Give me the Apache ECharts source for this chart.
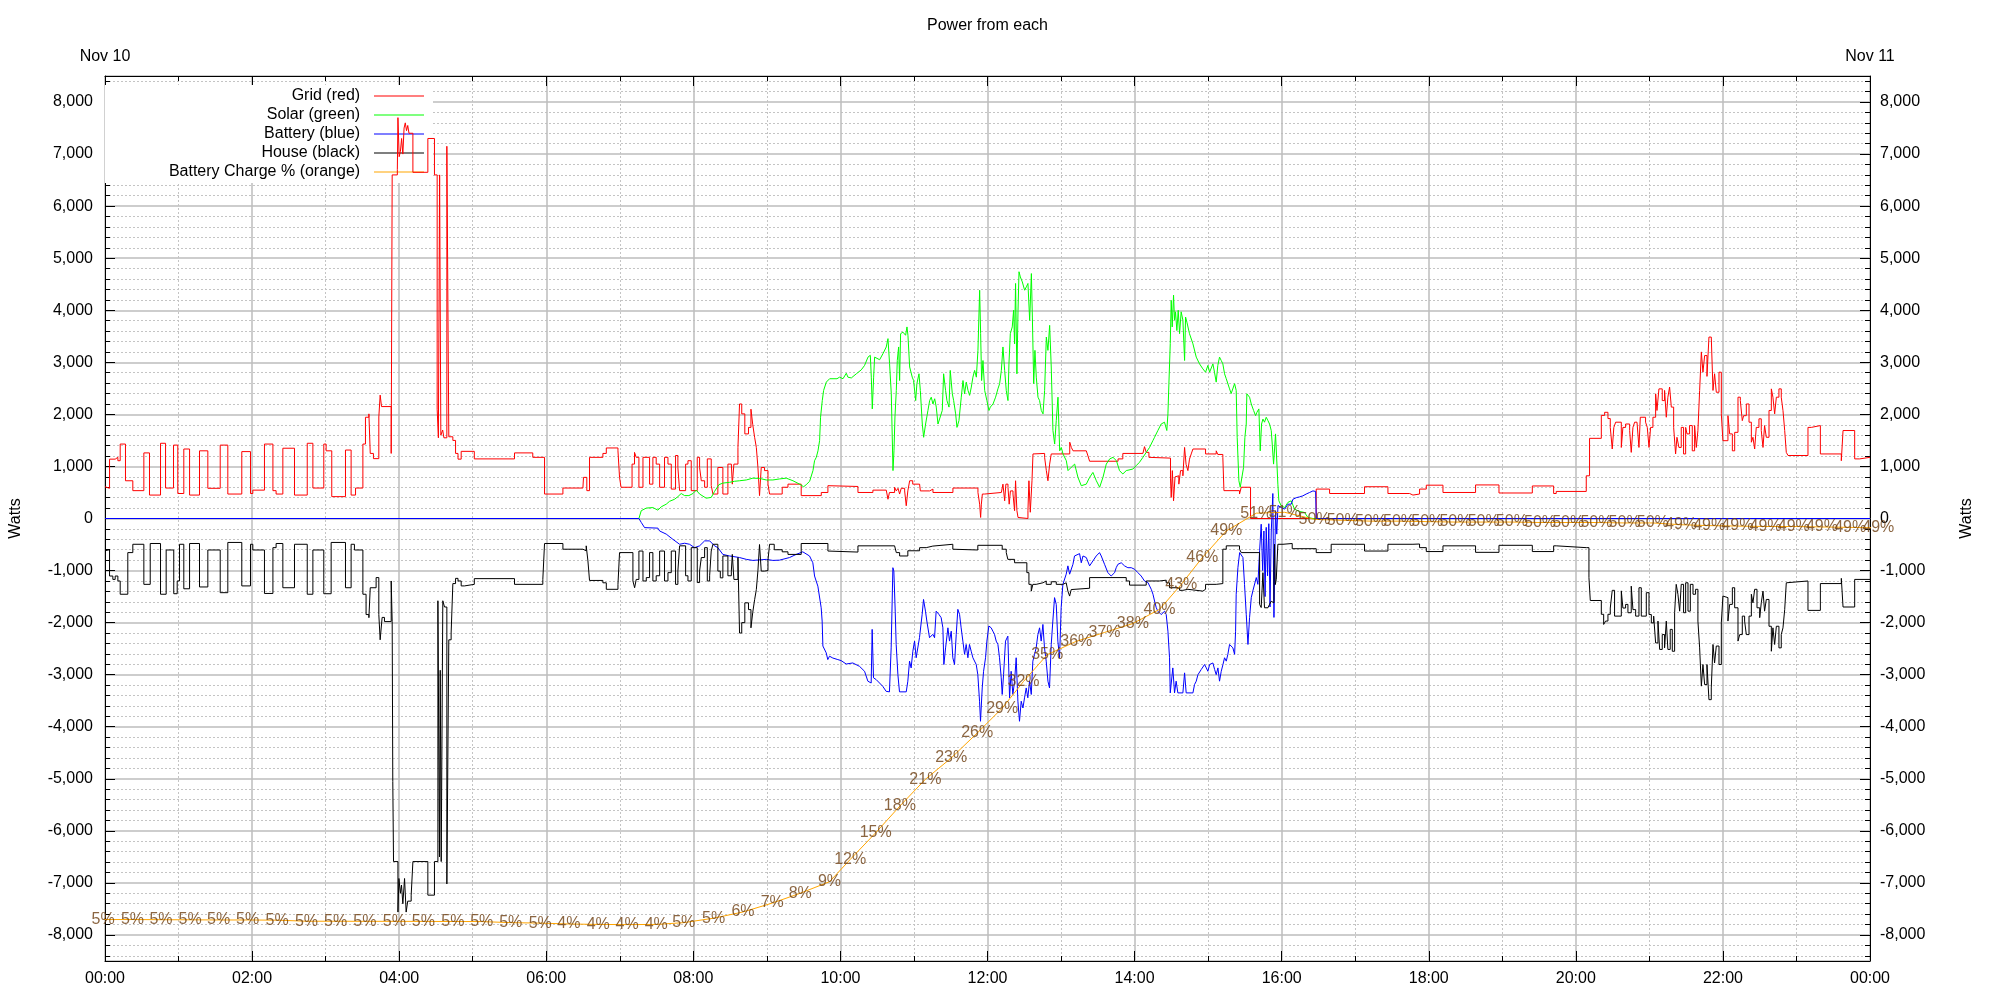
<!DOCTYPE html>
<html><head><meta charset="utf-8">
<script src="https://cdn.jsdelivr.net/npm/echarts/dist/echarts.min.js"></script>
<style>html,body{margin:0;padding:0;background:#fff}#c{width:2000px;height:1000px}</style>
</head><body><div id="c"></div>
<script>
const FONT = 'Liberation Sans';
const titleText = 'Power from each';
const dateLabels = ['Nov 10', 'Nov 11'];
const axisName = 'Watts';
const seriesNames = ['Grid (red)', 'Solar (green)', 'Battery (blue)', 'House (black)', 'Battery Charge % (orange)'];
const seriesColors = ['#ff0000', '#00ff00', '#0000ff', '#000000', '#ffa500'];

// [minute of day, watts]
const gridW = [[0,610],[1,580],[3.7,1140],[8.3,1175],[10.5,1110],[12.4,1430],[16.7,725],[22.7,535],[31.7,1260],[36.3,450],[45.3,1445],[49.4,585],[55.9,1410],[59.4,480],[64.3,1335],[69,450],[77.1,1300],[83.9,580],[94,1410],[100.2,470],[111.6,1285],[118.7,480],[120.6,545],[130.1,1430],[137,535],[139.6,470],[145.1,1350],[154.6,450],[165,1445],[169.6,585],[178.5,1430],[180.4,1300],[185,420],[196.2,1315],[200.8,450],[204.4,585],[210.4,1430],[212.5,1945],[215.3,2010],[216.4,1250],[219,1150],[223.4,1950],[224.5,2370],[225.6,2150],[233.5,1250],[234.3,6600],[238.5,6700],[239,7700],[240,6950],[241,7050],[242,7300],[243,7000],[244,7500],[245,7600],[246,7450],[247,7550],[248,7400],[251.2,6650],[263.4,7300],[268.8,6600],[271,2100],[272,1550],[273,6600],[274,1600],[275.5,1700],[276.5,1550],[278.9,7150],[280.5,1570],[283.8,1500],[286,1250],[288,1140],[290.6,1290],[301.3,1145],[334.1,1260],[349,1175],[358.6,470],[373.6,585],[389.9,610],[390.4,790],[393.1,535],[395.3,1175],[406.2,1250],[409,1355],[418.5,1300],[419.8,790],[421,600],[430,1045],[432,1270],[433.4,1175],[435.6,600],[438.9,1175],[444.3,660],[447,1175],[449.7,1045],[452.5,600],[456.5,1175],[459.3,1045],[462,565],[465.5,1210],[467.4,980],[468.8,535],[473.7,1045],[475.6,1110],[478.3,535],[483.2,1175],[485.1,980],[486.5,725],[489.2,600],[491.4,1145],[494.6,630],[496,470],[500,980],[504.1,470],[508.2,1045],[511,1080],[511.8,660],[513.1,1045],[516.4,1365],[517.7,2200],[519.5,2010],[522,1625],[525,1750],[527,2100],[528.5,1800],[530,1560],[531.4,1365],[532.7,980],[534,440],[535.4,980],[538.1,920],[540.9,660],[542.2,470],[552.5,600],[557.2,660],[568,440],[584.4,500],[589.8,630],[591.2,615],[614.3,500],[626.5,545],[637.4,530],[638.8,370],[640,500],[644.2,600],[645.6,530],[647,580],[648.3,470],[649.6,580],[652.4,530],[653.7,245],[655,530],[656.5,725],[659,660],[664.6,630],[665.2,530],[672.8,565],[675.5,500],[691.8,585],[712.2,500],[713.6,275],[714.4,20],[715,275],[715.8,470],[717.7,500],[731.3,530],[732.6,660],[734,340],[735,660],[736.7,600],[737.7,275],[738.7,530],[740.8,470],[742.1,150],[742.9,725],[744,150],[744.9,20],[746.2,0],[753,150],[753.8,725],[754.9,120],[756.3,725],[757.1,1240],[758.5,1250],[766.6,1175],[768,920],[769.3,725],[770.7,1045],[772,1240],[787.1,1465],[788.4,1365],[789.8,1300],[800.6,1270],[802,1200],[803.3,1100],[826.5,1145],[830.4,1250],[846.8,1270],[848.1,1380],[849.5,1270],[851.7,1175],[852.2,1160],[869.3,760],[869.9,405],[870.8,920],[871.8,340],[873,800],[874.5,820],[876.1,660],[877.5,920],[879.4,820],[880.8,1365],[882,1040],[883.5,920],[884.8,1140],[886.2,1240],[887.6,1335],[897.9,1240],[906.6,1300],[907.9,1230],[912,1175],[912.9,535],[925.6,470],[927,600],[934.6,0],[988.2,565],[999.1,480],[1027.6,610],[1046.7,480],[1064.4,450],[1067.1,470],[1072.5,565],[1078,640],[1091.6,500],[1118.2,645],[1137.3,490],[1164.5,625],[1181.9,480],[1184,520],[1208.5,820],[1211.2,1540],[1220.8,1980],[1223.5,2040],[1226.2,1920],[1228.1,1750],[1229.7,1335],[1231,1750],[1232.5,1850],[1237.1,1365],[1238.4,1750],[1240.6,1815],[1243.9,1690],[1245.2,1270],[1246.6,1750],[1248,1850],[1249.9,1880],[1251.5,1365],[1252.6,1945],[1256.9,1850],[1258.3,1750],[1259.7,1365],[1261,1750],[1262.9,1945],[1265.1,2395],[1266.2,2075],[1267.8,2490],[1270.5,2265],[1272.4,2460],[1273.8,1945],[1275.1,2330],[1276.5,2525],[1277.9,2140],[1279.8,1750],[1281.4,1240],[1282.5,1560],[1284.1,1365],[1286,1750],[1287.9,1240],[1289.6,1750],[1290.7,1625],[1292.8,1785],[1295,1300],[1296.9,1785],[1298.3,1365],[1299.6,1690],[1301,2460],[1302.4,3200],[1303.7,2810],[1305.1,3130],[1307,2730],[1308.6,3485],[1310.5,3455],[1311.9,2460],[1313.2,2780],[1314.6,2425],[1316.8,2810],[1318.7,2010],[1320,1495],[1324.1,1975],[1325.5,1625],[1327.7,1300],[1329.6,1655],[1332.3,2330],[1334.2,2265],[1335.8,1880],[1336.9,1975],[1339.1,2200],[1341.3,1850],[1343.2,1465],[1344.5,1560],[1345.9,1335],[1347.2,1750],[1349.4,1915],[1351.3,1690],[1352.7,1365],[1354,1785],[1355.4,1560],[1357.6,2075],[1359.5,2490],[1360.8,2330],[1362.2,2010],[1363.6,2330],[1365.7,2490],[1367.6,2330],[1369,2075],[1370.4,1690],[1371.7,1270],[1373.1,1210],[1389.4,1750],[1392.1,1785],[1399.5,1240],[1416.6,1110],[1418,1690],[1427.5,1145],[1431.6,1175],[1440,1175]];

const solarW = [[0,0],[435.6,0],[437.5,150],[441.6,200],[447,210],[451.1,160],[453.8,225],[457.9,275],[460.6,330],[464.7,370],[467.4,420],[470.1,480],[472.9,440],[476.4,440],[479.7,480],[482.4,545],[485.1,470],[490.5,390],[494.6,405],[497.3,520],[500.9,650],[504.1,680],[509.6,695],[513.7,715],[517.7,725],[523.2,740],[528.6,775],[534.1,770],[539.5,740],[544.9,740],[550.4,760],[555.8,775],[561.3,725],[566.7,660],[570,610],[572.1,650],[574.9,715],[577.6,920],[578.9,1110],[580.3,1175],[581.7,1300],[583,1495],[583.8,1945],[585.2,2265],[586.3,2460],[588.5,2620],[591.2,2685],[597.2,2685],[599.3,2715],[602.1,2685],[604.8,2790],[606.1,2715],[608.9,2700],[613,2780],[617,2855],[619.7,2940],[622.5,3100],[624.4,3135],[625.2,2715],[626,2105],[627.1,2715],[627.9,3100],[629.3,3135],[632,3050],[634.7,3165],[637.4,3295],[638.8,3455],[640.1,2975],[641.5,2395],[642.9,920],[643.7,1300],[644.5,1950],[645.6,2460],[646.4,3035],[647.5,3295],[648.3,2650],[649.1,3550],[651,3580],[653.2,3520],[654.3,3680],[655.1,3520],[656.5,2910],[658.6,2715],[659.7,2650],[661.4,2265],[662.4,2590],[664.1,2780],[665.2,2460],[666.8,1815],[667.9,1560],[669.5,1815],[671.4,2075],[672.8,2265],[674.1,2330],[675.5,2200],[676.9,2300],[678.2,2140],[679.6,1815],[681,1850],[683.1,2075],[684.2,2780],[685.8,2460],[686.9,2265],[688.6,2140],[689.6,2845],[691.3,2395],[692.4,2265],[694,2010],[695.1,1750],[696.7,1880],[698.6,2330],[700,2650],[701.3,2395],[702.7,2620],[704.1,2460],[705.4,2365],[706.8,2525],[708.1,2715],[709.5,2845],[710.9,2715],[712.2,3230],[713.6,4385],[714.4,3550],[715.2,2650],[716.3,3035],[717.7,2460],[719.5,2265],[721.2,2075],[722.3,2140],[724.5,2200],[726.6,2330],[728.5,2490],[729.9,2590],[731.3,2845],[732.6,3295],[734,2845],[735.3,2460],[736.7,2265],[737.5,2970],[738.6,3550],[740.2,3680],[741.3,4000],[742.1,3355],[742.9,4515],[744,2780],[744.9,4000],[745.7,4740],[746.8,4640],[748.4,4545],[750.3,4385],[751.7,4450],[753,4515],[754.4,3805],[755.8,4705],[756.6,3870],[757.7,2590],[758.7,3230],[759.8,2715],[761.2,2330],[762.5,2265],[763.9,2075],[765.3,2010],[766.6,2460],[768,3485],[769.3,3230],[770.7,3710],[772,2910],[773.4,1690],[774.8,1430],[776.1,1880],[777.5,2330],[778.9,1300],[780.2,1365],[781.6,1240],[784.3,1110],[785.7,920],[787.1,890],[788.4,985],[791.1,1045],[793.8,790],[796.5,630],[800.6,660],[803.3,790],[806,885],[808.8,725],[811.5,600],[814.2,790],[816.9,1045],[819.7,1145],[822.4,1175],[825.2,1110],[827.7,920],[830.4,855],[833.2,920],[838.6,950],[841.3,1015],[844,1080],[846.8,1175],[849.5,1270],[852.2,1365],[854.9,1495],[856.3,1560],[859,1690],[861.7,1815],[864.4,1850],[866.3,1690],[867.2,2010],[868,2590],[869.1,3360],[869.9,4190],[870.7,3680],[871.8,4290],[872.6,3810],[873.4,3970],[874.5,3610],[875.6,4000],[876.7,3550],[878,3970],[879.4,3810],[880.8,3035],[881.6,3870],[882.7,3770],[884.8,3550],[887.6,3355],[890.3,3100],[893,2970],[895.7,2875],[897.9,2810],[899.8,2940],[901.2,2810],[903.9,2970],[905.2,2810],[906.6,2620],[907.9,2940],[909.3,3100],[910.7,3035],[912,2970],[913.4,2780],[914.8,2685],[917.5,2490],[918.8,2400],[920.2,2430],[921.6,2590],[922.9,2460],[923.7,1560],[925.1,725],[926.2,600],[927.8,630],[928.9,980],[930,1560],[931.1,1815],[931.6,2395],[932.4,2430],[933.8,2330],[935.2,2200],[937.1,2075],[938.7,1975],[939.8,2040],[941.4,2105],[942.5,1300],[943.6,1815],[944.7,1910],[946,1850],[947.4,1945],[948.8,1880],[950.1,1815],[951.5,1690],[952.3,1430],[953.4,1045],[954.4,1045],[955,1625],[956.1,1625],[956.9,660],[957.7,340],[959.6,245],[962.4,210],[965.1,310],[967.8,340],[970.5,180],[974.6,135],[978.7,115],[981.4,20],[985.5,0],[1440,0]];

const batteryW = [[0,0],[435.6,0],[437.5,-75],[440.2,-175],[451.1,-185],[452.5,-240],[457.9,-300],[463.3,-400],[468.8,-495],[472.9,-475],[476.9,-495],[481,-560],[485.1,-525],[489.2,-430],[493.3,-430],[497.3,-525],[500,-560],[504.1,-690],[509.6,-720],[517.7,-750],[523.2,-785],[528.6,-805],[539.5,-785],[544.9,-805],[550.3,-800],[558.5,-750],[563.9,-690],[569.3,-640],[574.8,-720],[577.5,-850],[578.9,-1105],[580.2,-1200],[581.6,-1300],[582.9,-1330],[584.3,-1715],[585.1,-1970],[585.7,-2450],[588.4,-2580],[589.7,-2710],[591.1,-2645],[593.8,-2680],[597.9,-2710],[600.6,-2730],[604.7,-2795],[610.1,-2775],[615.6,-2840],[619.7,-2935],[622.4,-3125],[625.1,-3160],[625.9,-2130],[627,-3060],[629.2,-3095],[631.9,-3160],[634.6,-3225],[637.3,-3320],[640,-3330],[641.4,-2485],[642.8,-945],[643.6,-1010],[644.7,-1780],[645.5,-2420],[646.9,-3000],[648.2,-3330],[653.7,-3330],[655,-3125],[656.4,-2740],[657.7,-2870],[659.1,-2550],[660.5,-2355],[661.8,-2675],[664.5,-2290],[666.7,-1840],[667.8,-1555],[669.4,-1780],[670.5,-1970],[672.7,-2290],[674.1,-2325],[675.4,-2225],[676.8,-2290],[678.1,-1780],[680.3,-1840],[682.2,-1905],[683.6,-2100],[684.4,-2805],[685.8,-2485],[687.7,-2100],[689,-2355],[690.4,-2165],[691.7,-2675],[693.1,-2805],[694.5,-2225],[695.8,-1745],[697.2,-1840],[698.5,-2100],[699.9,-2355],[701.3,-2610],[702.6,-2420],[704,-2675],[705.3,-2420],[706.7,-2550],[708.1,-2675],[710.8,-2805],[712.1,-3000],[713.5,-3510],[714.3,-3895],[715.7,-3255],[716.8,-2935],[718.4,-2675],[719.5,-2355],[721.1,-2065],[723,-2100],[724.4,-2165],[725.7,-2225],[727.1,-2355],[728.5,-2420],[729.8,-2675],[731.2,-3060],[732,-3380],[733.1,-3000],[734.7,-2355],[736.6,-2260],[738,-3445],[739.3,-2935],[740.7,-3380],[742.1,-3125],[743.4,-2675],[744.8,-3510],[746.1,-3895],[747.5,-3510],[748.9,-3640],[750.2,-3445],[751.6,-3255],[752.9,-3445],[754.3,-3125],[755.7,-3380],[757,-2740],[758.4,-2610],[759.7,-2485],[761.1,-2230],[762.5,-2100],[763.8,-2355],[765.2,-2035],[766.5,-2485],[767.9,-2740],[769.3,-3125],[770.6,-3255],[772,-2420],[773.3,-1970],[774.7,-1520],[776.1,-1650],[777.4,-2355],[778.8,-2675],[780.1,-1715],[781.5,-1265],[784.2,-1070],[785.6,-910],[787,-1070],[788.3,-1040],[789.7,-880],[791,-720],[795.1,-675],[796.5,-850],[797.9,-720],[800.6,-750],[803.3,-910],[806,-815],[808.7,-720],[811.4,-655],[812.8,-720],[815.5,-880],[818.2,-1040],[820.9,-1105],[822.3,-1070],[823.7,-1040],[825,-945],[826.4,-880],[829.1,-850],[831.8,-910],[834.5,-945],[837.3,-945],[840,-975],[842.7,-1040],[845.4,-1105],[848.1,-1200],[850.9,-1230],[853.6,-1360],[855,-1455],[856.3,-1585],[857.7,-1715],[859,-1780],[860.4,-1745],[861.7,-1845],[863.1,-1875],[864.5,-1780],[865.8,-1845],[867.2,-2165],[868.5,-2675],[869.1,-3350],[871.2,-2870],[872.6,-3350],[873.9,-3125],[875.3,-3350],[879.4,-3350],[880.8,-2965],[882.1,-3350],[887.6,-3350],[888.9,-3190],[890.3,-3125],[891.7,-3000],[894.4,-2900],[897.1,-2805],[898.5,-2870],[899.8,-2935],[901.2,-2805],[902.5,-2840],[903.9,-2775],[905.3,-2900],[906.6,-3000],[908,-2870],[909.3,-3125],[910.7,-2935],[912.1,-2805],[913.4,-2675],[914.8,-2740],[916.1,-2610],[917.5,-2420],[918.9,-2390],[920.2,-2485],[921.6,-2610],[922.4,-2165],[922.9,-1455],[924.3,-945],[925.7,-655],[927,-620],[928.4,-750],[929.7,-1265],[931.1,-1840],[932.5,-2420],[933.8,-1905],[935.2,-1520],[936.5,-1390],[937.9,-1360],[939.3,-1135],[940.6,-1265],[942,-620],[943.3,-110],[944.5,-1000],[945.5,-240],[946.5,-1500],[947.4,-170],[948.5,-1100],[949.5,-100],[950.5,-1700],[951.5,-260],[952.8,480],[953.7,-1900],[955,150],[956,-300],[957,250],[959.6,210],[962.4,180],[965.1,275],[967.8,275],[969.2,370],[971.9,400],[974.6,415],[977.3,435],[980,470],[982.8,500],[985.5,530],[987.7,520],[988.2,0],[1440,0]];

const houseW = [[0,-620],[1,-600],[3.7,-1105],[6.4,-1170],[8.3,-1105],[10.5,-1200],[12.4,-1455],[18.6,-655],[22.7,-495],[31.7,-1265],[36.9,-480],[45.3,-1455],[49.9,-605],[56.1,-1445],[58.9,-1200],[60.8,-495],[64.3,-1350],[69,-480],[77.1,-1315],[83.9,-605],[94,-1425],[100.2,-460],[111.6,-1295],[118.7,-495],[120.6,-605],[130.1,-1440],[137,-560],[139.6,-480],[145.1,-1330],[154.6,-495],[165,-1455],[169.6,-605],[178.5,-1445],[184.5,-460],[196.2,-1330],[200.8,-495],[203.5,-605],[210.4,-1455],[213,-1845],[215.3,-1905],[216.4,-1330],[221.2,-1135],[223.4,-1845],[224.5,-2330],[226.1,-1900],[228,-1980],[233.5,-1200],[234.3,-1980],[234.8,-5050],[235.4,-6590],[239,-7560],[239.8,-6915],[241,-7200],[241.9,-7040],[243,-7400],[244.4,-6915],[245.7,-7560],[247,-7350],[249.8,-7235],[251.2,-6590],[263.4,-7235],[268.8,-6590],[271.6,-1580],[272.9,-6500],[273.5,-2915],[274.3,-6590],[275.6,-1580],[277,-1700],[278.9,-7020],[280.5,-2330],[282.4,-2200],[283.8,-1250],[286,-1150],[288,-1200],[290.6,-1295],[293.3,-1265],[301.3,-1155],[334.1,-1265],[357.2,-1170],[358.6,-480],[373.6,-590],[389.9,-620],[392.6,-525],[394,-815],[395.3,-1190],[406.2,-1235],[409,-1360],[418.5,-1265],[419.8,-655],[430.7,-1200],[432.1,-1330],[433.4,-1170],[435.6,-625],[438.9,-1200],[441.6,-1135],[444.3,-655],[447,-1200],[449.7,-1100],[452.5,-625],[456.5,-1200],[459.3,-1040],[462,-625],[465.5,-1265],[467.4,-1010],[468.8,-525],[473.7,-1100],[475.6,-1200],[478.3,-560],[483.2,-1230],[485.1,-1010],[486.5,-750],[489.2,-560],[491.4,-1200],[493.3,-1100],[494.6,-625],[496,-495],[500,-1010],[502,-1140],[504.1,-720],[508.2,-1100],[511,-1010],[511.8,-690],[513.1,-1170],[516.4,-750],[517.7,-2200],[519.5,-2000],[522,-1620],[525,-1750],[527,-2100],[528.5,-1800],[530,-1560],[531.4,-1365],[532.7,-1000],[534,-500],[535.4,-1010],[538.1,-1000],[540.9,-800],[542.2,-495],[546,-600],[552.5,-640],[557.2,-690],[568,-480],[589.8,-625],[591.2,-645],[614.3,-525],[644.2,-545],[645.6,-655],[648.3,-720],[655,-620],[664.6,-560],[670,-530],[675.4,-495],[691.7,-590],[693,-605],[712.1,-515],[732,-590],[735.3,-655],[736.6,-785],[742.1,-850],[752.1,-1040],[753.8,-1265],[755.7,-1395],[757,-1265],[759.7,-1235],[765.2,-1200],[767.9,-1265],[772,-1215],[776.1,-1265],[781.5,-1235],[784.2,-1265],[785.6,-1395],[787,-1490],[788.3,-1365],[789.7,-1340],[803.3,-1135],[833.2,-1200],[835.9,-1280],[849.5,-1200],[860.4,-1185],[865.8,-1235],[868.5,-1330],[876.7,-1380],[879.4,-1360],[883.5,-1395],[895.7,-1360],[897.9,-1265],[906.6,-1250],[912,-590],[914.8,-525],[925.6,-590],[927,-655],[942,-1650],[943.3,-1710],[944.7,-1040],[946,-1715],[948.8,-1745],[950.1,-1650],[951.5,-1590],[952.8,-1620],[953.7,-1000],[954.2,-495],[954.8,-1270],[955.6,-1170],[956.9,-495],[961.1,-480],[968.6,-580],[988.2,-655],[1000.4,-495],[1027.6,-625],[1046.7,-495],[1067.1,-490],[1072.5,-560],[1078,-635],[1091.6,-525],[1118.2,-650],[1137.3,-515],[1164.5,-635],[1181.9,-525],[1184,-560],[1208.5,-560],[1210.7,-1135],[1211.8,-1575],[1220.8,-1840],[1222.7,-2035],[1224.3,-1970],[1226.2,-1840],[1228.1,-1720],[1229.7,-1380],[1231.6,-1875],[1235.2,-1875],[1237.1,-1390],[1238.4,-1720],[1240.6,-1650],[1242.5,-1810],[1245.2,-1300],[1246.6,-1750],[1248.8,-1875],[1251.5,-1330],[1253.4,-1875],[1257.5,-1425],[1259.7,-1845],[1261.6,-2005],[1263.5,-1875],[1265.1,-2390],[1267,-1970],[1268.4,-2515],[1270.5,-2230],[1272.4,-2485],[1273.8,-1970],[1275.1,-2515],[1277,-2130],[1278.7,-2550],[1280.6,-1810],[1281.9,-1265],[1283.3,-1455],[1284.7,-1780],[1286,-1265],[1287.9,-1810],[1289.6,-1235],[1291.5,-1780],[1293.4,-1265],[1295.6,-1455],[1297.7,-1360],[1299.6,-1970],[1301,-2485],[1302.4,-3220],[1303.7,-2805],[1305.1,-3190],[1307,-2805],[1308.6,-3480],[1310.5,-3255],[1311.9,-2420],[1313.2,-2775],[1314.6,-2450],[1316.8,-2805],[1318.7,-2005],[1320,-1490],[1321.4,-1520],[1324.1,-1970],[1325.5,-1650],[1327.7,-1330],[1329.6,-1715],[1332.3,-2355],[1333.7,-2230],[1335.8,-1875],[1337.7,-1970],[1339.1,-2230],[1341.3,-1875],[1343.2,-1455],[1344.5,-1620],[1345.9,-1360],[1347.8,-1715],[1350,-1905],[1351.3,-1620],[1352.7,-1395],[1354,-1780],[1355.4,-1555],[1357.6,-2070],[1359.5,-2550],[1360.8,-2100],[1362.2,-2420],[1363.6,-2070],[1365.7,-2485],[1367.6,-2230],[1369,-2100],[1370.4,-1750],[1371.7,-1235],[1373.1,-1200],[1389.4,-1765],[1399.5,-1250],[1416.6,-1150],[1418,-1700],[1427.5,-1170],[1440,-1170]];

// battery charge: label times (minute) and percent values
const chargeT = [-1.5,22.4,45.7,69.4,92.7,116.3,140.4,164.4,188.1,212,236.1,259.7,283.8,307.4,331,355.1,378.4,402.4,426,449.7,472.2,496.5,520.5,544.4,567.2,591.1,608,628.8,648.5,669.3,690.4,711.6,732,749.4,768.7,792.4,815.5,838.6,860.4,878.1,895.2,914.8,939.3,962.4,986.8,1009.8,1032.8,1055.8,1078.8,1101.8,1124.8,1147.8,1170.8,1193.8,1216.8,1239.8,1262.8,1285.8,1308.8,1331.8,1354.8,1377.8,1400.8,1423.8,1446.8];
const chargePct = [4.95,4.95,4.93,4.92,4.9,4.9,4.88,4.76,4.76,4.75,4.75,4.74,4.73,4.72,4.6,4.55,4.45,4.4,4.38,4.4,4.6,5.1,5.8,6.8,7.9,9.2,11.7,14.7,17.7,20.7,23.1,25.9,28.7,31.7,34.7,36.2,37.2,38.2,39.8,42.6,45.6,48.6,50.6,50.7,49.9,49.8,49.7,49.7,49.65,49.6,49.6,49.6,49.55,49.55,49.55,49.5,49.5,49.3,49.2,49.15,49.1,49.1,49.05,49.0,48.95];
// percent is drawn on the watts scale: 0% -> -8550, 100% -> 8550
const PCT_SCALE = 171;
const chargeData = chargeT.map((t, i) => [t, (chargePct[i] - 50) * PCT_SCALE, chargePct[i]]);

const fmtHour = v => String(Math.floor(v / 60) % 24).padStart(2, '0') + ':00';
const fmtWatts = v => Math.abs(v) > 8000 ? '' : v.toLocaleString('en-US');

const txt = {fontFamily: FONT, fontSize: 16, color: '#000'};
const majorGrid = {show: true, lineStyle: {color: '#bdbdbd', width: 1.5}};
const minorGrid = {show: true, lineStyle: {color: '#c4c4c4', width: 1, type: [2, 2]}};
const axisLine = {show: true, onZero: false, lineStyle: {color: '#000', width: 1}};
const tick = {show: true, inside: true, length: 10, lineStyle: {color: '#000', width: 1}};

function yAxisCfg(pos, withGrid) {
  return {
    type: 'value', position: pos, min: -8500, max: 8500, splitNumber: 17,
    minInterval: 1000, maxInterval: 1000,
    name: axisName, nameLocation: 'middle', nameRotate: 90,
    nameGap: pos === 'left' ? 81 : 89, nameTextStyle: txt,
    axisLine: axisLine, axisTick: tick,
    minorTick: {show: true, splitNumber: 5, length: 5, lineStyle: {color: '#000', width: 1}},
    splitLine: withGrid ? majorGrid : {show: false},
    minorSplitLine: withGrid ? minorGrid : {show: false},
    axisLabel: Object.assign({formatter: fmtWatts, margin: pos === 'left' ? 12 : 10, hideOverlap: false}, txt)
  };
}
function xAxisCfg(pos, withGrid) {
  return {
    type: 'value', position: pos, min: 0, max: 1440, interval: 120,
    axisLine: axisLine, axisTick: tick,
    minorTick: {show: true, splitNumber: 2, length: 5, lineStyle: {color: '#000', width: 1}},
    splitLine: withGrid ? majorGrid : {show: false},
    minorSplitLine: withGrid ? minorGrid : {show: false},
    axisLabel: Object.assign({
      margin: pos === 'bottom' ? 10 : 11, hideOverlap: false,
      formatter: pos === 'bottom' ? fmtHour : (v => v === 0 ? dateLabels[0] : (v === 1440 ? dateLabels[1] : ''))
    }, txt)
  };
}
function lineSeries(i, data, step) {
  return {
    name: seriesNames[i], type: 'line', data: data, step: step, symbol: 'none', showSymbol: false,
    lineStyle: {color: seriesColors[i], width: 1}, itemStyle: {color: seriesColors[i]},
    animation: false, z: 2
  };
}

const chart = echarts.init(document.getElementById('c'), null, {renderer: 'canvas'});
chart.setOption({
  animation: false,
  backgroundColor: '#fff',
  title: {text: titleText, left: 927, top: 18, padding: 0,
    textStyle: {fontFamily: FONT, fontSize: 16, fontWeight: 'normal', color: '#000'}},
  grid: {left: 104, right: 130, top: 76, bottom: 39, containLabel: false},
  legend: {
    data: seriesNames, orient: 'vertical', align: 'right', right: 1567, top: 85,
    icon: 'rect', itemWidth: 50, itemHeight: 1.2, itemGap: 3, padding: [3, 9, 3, 64],
    backgroundColor: '#fff', z: 1, selectedMode: false,
    textStyle: txt, formatter: n => n + '  '
  },
  xAxis: [xAxisCfg('bottom', true), xAxisCfg('top', false)],
  yAxis: [yAxisCfg('left', true), yAxisCfg('right', false)],
  series: [
    lineSeries(0, gridW, 'end'),
    lineSeries(1, solarW, false),
    lineSeries(2, batteryW, false),
    lineSeries(3, houseW, 'end'),
    lineSeries(4, chargeData, false),
    {
      name: 'chargeLabels', type: 'scatter', data: chargeData, symbolSize: 1,
      itemStyle: {color: 'rgba(0,0,0,0)'}, clip: false, silent: true, z: 3,
      label: {show: true, position: 'inside', fontFamily: FONT, fontSize: 16, color: '#6e3f12',
        textBorderWidth: 0, textBorderColor: 'transparent',
        formatter: p => Math.round(p.value[2]) + '%'},
      labelLayout: {hideOverlap: false}
    }
  ]
});
</script>
</body></html>
